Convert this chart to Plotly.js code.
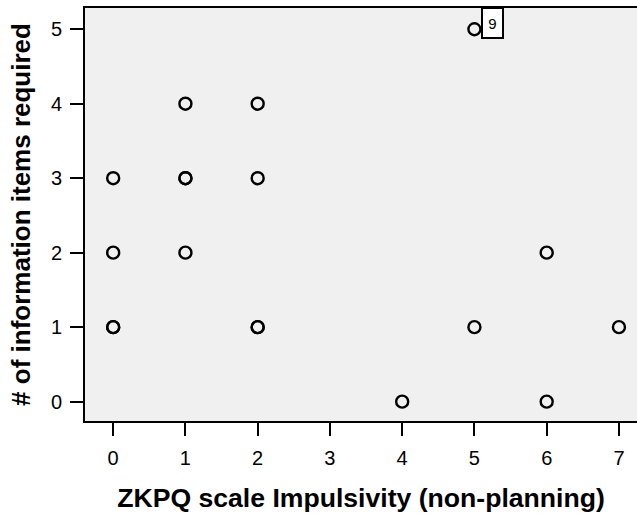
<!DOCTYPE html>
<html><head><meta charset="utf-8">
<script src="https://cdn.plot.ly/plotly-3.0.1.min.js"></script>
<style>html,body{margin:0;padding:0;background:#fff}</style>
</head><body><div id="chart" style="width:637px;height:517px"></div>
<script>
const impulsivity = [0,0,0,0,1,1,1,1,2,2,2,2,5,4,5,6,6,7];
const infoItems   = [3,2,1,1,4,3,3,2,4,3,1,1,5,0,1,2,0,1];
const caseLabelX = 5, caseLabelY = 5, caseLabelText = "9";
const xTicks = [0,1,2,3,4,5,6,7];
const yTicks = [0,1,2,3,4,5];

Plotly.newPlot('chart', [{
  x: impulsivity, y: infoItems, type: 'scatter', mode: 'markers',
  marker: {symbol: 'circle-open', size: 12, color: '#000', line: {width: 2.4, color: '#000'}},
  hoverinfo: 'skip'
}], {
  width: 637, height: 517,
  margin: {l: 85, r: 0, t: 8, b: 96},
  paper_bgcolor: '#fff', plot_bgcolor: '#f0f0f0',
  font: {family: 'Liberation Sans, Arial, sans-serif', color: '#000'},
  showlegend: false,
  xaxis: {range: [-0.39, 7.25], tickvals: xTicks, ticktext: xTicks.map(String),
    ticks: 'outside', ticklen: 13, tickwidth: 2, tickcolor: '#000',
    showline: true, linewidth: 2, linecolor: '#000', mirror: true,
    showgrid: false, zeroline: false, tickfont: {size: 20}, ticklabelstandoff: 5,
    title: {text: 'ZKPQ scale Impulsivity (non-planning)', font: {size: 26.6, weight: 'bold'}, standoff: 20}},
  yaxis: {range: [-0.26, 5.285], tickvals: yTicks, ticktext: yTicks.map(String),
    ticks: 'outside', ticklen: 13, tickwidth: 2, tickcolor: '#000',
    showline: true, linewidth: 2, linecolor: '#000',
    showgrid: false, zeroline: false, tickfont: {size: 20}, ticklabelstandoff: 4,
    title: {text: '# of information items required', font: {size: 26, weight: 'bold'}, standoff: 13}},
  annotations: [{x: caseLabelX, y: caseLabelY, xref: 'x', yref: 'y', text: caseLabelText,
    showarrow: false, xanchor: 'left', yanchor: 'middle', xshift: 7, yshift: 6,
    width: 17, height: 26, valign: 'middle', align: 'center',
    bgcolor: '#fff', bordercolor: '#000', borderwidth: 2, borderpad: 1,
    font: {size: 15, color: '#000'}}]
}, {displayModeBar: false, staticPlot: true});
</script></body></html>
